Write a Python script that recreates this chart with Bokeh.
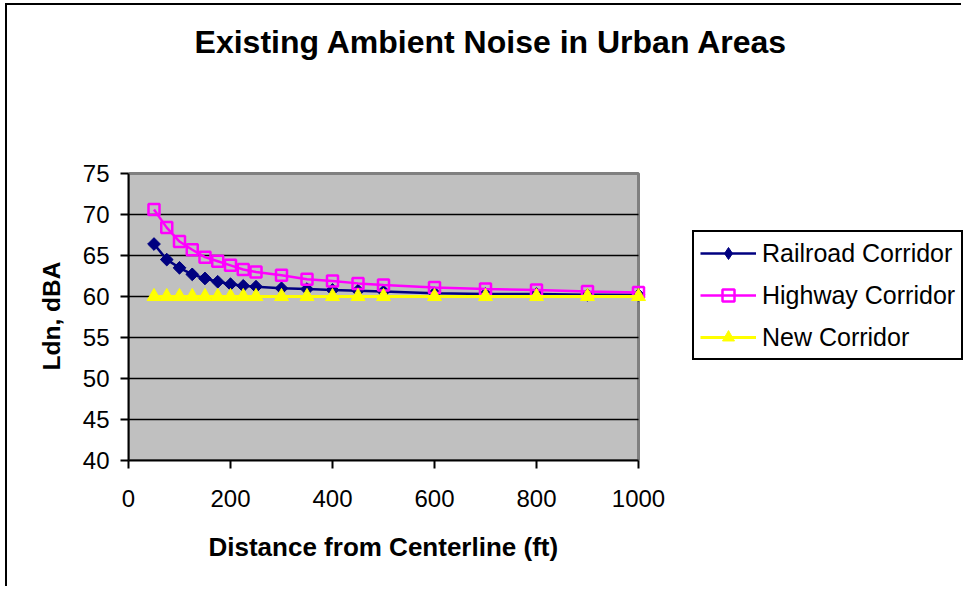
import math
from bokeh.plotting import figure
from bokeh.models import FixedTicker, Legend, LegendItem, Label, Title, ColumnDataSource
from bokeh.embed import file_html
from bokeh.resources import INLINE

# ---- data ----
distance = [50, 75, 100, 125, 150, 175, 200, 225, 250, 300, 350, 400, 450, 500, 600, 700, 800, 900, 1000]
railroad = [66.4, 64.5, 63.5, 62.7, 62.2, 61.8, 61.5, 61.3, 61.2, 61.0, 60.9, 60.8, 60.7, 60.6, 60.4, 60.3, 60.3, 60.2, 60.2]
highway = [70.6, 68.4, 66.7, 65.7, 64.8, 64.3, 63.8, 63.3, 63.0, 62.6, 62.1, 61.9, 61.6, 61.4, 61.1, 60.9, 60.8, 60.6, 60.5]
new_corridor = [60, 60, 60, 60, 60, 60, 60, 60, 60, 60, 60, 60, 60, 60, 60, 60, 60, 60, 60]

x_ticks = [0, 200, 400, 600, 800, 1000]
y_ticks = [40, 45, 50, 55, 60, 65, 70, 75]
grid_ticks = [45, 50, 55, 60, 65, 70]

title_text = "Existing Ambient Noise in Urban Areas"
x_label = "Distance from Centerline (ft)"
y_label = "Ldn, dBA"
series_names = ["Railroad Corridor", "Highway Corridor", "New Corridor"]

FONT = "Liberation Sans"

# ---- layout (pixels on the page) ----
CANVAS_LEFT, CANVAS_TOP = 7, 5          # margin + 2px border
W, H = 956, 583
AREA_LEFT, AREA_RIGHT = 128, 638         # grey plot area on the page
AREA_TOP, AREA_BOTTOM = 173, 460
x0, x1 = x_ticks[0], x_ticks[-1]
y0, y1 = y_ticks[0], y_ticks[-1]
px_x = (AREA_RIGHT - AREA_LEFT) / (x1 - x0)
px_y = (AREA_BOTTOM - AREA_TOP) / (y1 - y0)
frame_w = CANVAS_LEFT + W - AREA_LEFT
frame_h = AREA_BOTTOM - CANVAS_TOP


def page_to_data(px, py):
    return x0 + (px - AREA_LEFT) / px_x, y0 + (AREA_BOTTOM - py) / px_y


p = figure(width=W, height=H, output_backend="svg", toolbar_location=None,
           x_range=(x0, x0 + frame_w / px_x), y_range=(y0, y0 + frame_h / px_y),
           min_border_left=AREA_LEFT - CANVAS_LEFT, min_border_right=0,
           min_border_top=0, min_border_bottom=CANVAS_TOP + H - AREA_BOTTOM)
p.margin = (3, 0, 0, 5)
p.styles = {"border-left": "2px solid black", "border-top": "2px solid black"}

p.background_fill_color = "white"
p.border_fill_color = "white"
p.outline_line_color = None

# grey plotting area
area = p.quad(left=[x0], right=[x1], bottom=[y0], top=[y1],
              fill_color="#C0C0C0", line_color="#808080", line_width=3, level="image")

for ax in (p.xaxis[0], p.yaxis[0]):
    ax.axis_line_color = "black"
    ax.axis_line_width = 2
    ax.major_tick_line_color = "black"
    ax.major_tick_line_width = 2
    ax.major_tick_out = 8
    ax.major_tick_in = 0
    ax.minor_tick_line_color = None
    ax.major_label_text_font = FONT
    ax.major_label_text_font_size = "24px"
    ax.major_label_text_color = "black"

p.xaxis[0].ticker = FixedTicker(ticks=x_ticks)
p.yaxis[0].ticker = FixedTicker(ticks=y_ticks)
p.xaxis[0].bounds = (x0, x1)
p.yaxis[0].bounds = (y0, y1)
p.xaxis[0].major_label_standoff = 21
p.yaxis[0].major_label_standoff = 11

# axis titles, placed relative to the grey area (not the whole frame)
xt = Title(text=x_label, align="left", offset=80, standoff=44, vertical_align="top",
           text_font=FONT, text_font_size="26px", text_font_style="bold", text_color="black")
p.add_layout(xt, "below")
yt = Title(text=y_label, align="left", offset=90, standoff=27, vertical_align="middle",
           text_font=FONT, text_font_size="24.5px", text_font_style="bold", text_color="black")
p.add_layout(yt, "left")

p.xgrid.visible = False
p.ygrid.ticker = FixedTicker(ticks=grid_ticks)
p.ygrid.cross_bounds = (x0, x1)
p.ygrid.grid_line_color = "black"
p.ygrid.grid_line_width = 1.5

src = ColumnDataSource(dict(x=distance, rr=railroad, hw=highway, nc=new_corridor))

r_line = p.line("x", "rr", source=src, line_color="#000080", line_width=2.5)
# diamond glyph (hidden under the rotated squares) that supplies the legend swatch
r_key = p.scatter("x", "rr", source=src, marker="diamond", size=11,
                  fill_color="#000080", line_color="#000080")
r_mark = p.scatter("x", "rr", source=src, marker="square", angle=math.pi / 4, size=9,
                   fill_color="#000080", line_color="#000080")

h_line = p.line("x", "hw", source=src, line_color="#FF00FF", line_width=2.5)
h_mark = p.scatter("x", "hw", source=src, marker="square", size=11,
                   fill_color=None, line_color="#FF00FF", line_width=2.5)

n_line = p.line("x", "nc", source=src, line_color="#FFFF00", line_width=3)
n_mark = p.scatter("x", "nc", source=src, marker="triangle", size=14,
                   fill_color="#FFFF00", line_color="#FFFF00")

legend = Legend(items=[
    LegendItem(label=series_names[0], renderers=[r_line, r_key]),
    LegendItem(label=series_names[1], renderers=[h_line, h_mark]),
    LegendItem(label=series_names[2], renderers=[n_line, n_mark]),
], location=(692 - AREA_LEFT, AREA_BOTTOM - 360))
legend.border_line_color = "black"
legend.border_line_alpha = 1
legend.border_line_width = 2
legend.background_fill_color = "white"
legend.background_fill_alpha = 1
legend.label_text_font = FONT
legend.label_text_font_size = "25px"
legend.label_text_color = "black"
legend.glyph_width = 56
legend.glyph_height = 30
legend.label_height = 30
legend.label_standoff = 6
legend.spacing = 12
legend.padding = 6
legend.margin = 0
p.add_layout(legend, "center")

tx, ty = page_to_data(491, 41)
title = Label(x=tx, y=ty, text=title_text,
              text_font=FONT, text_font_size="32px", text_font_style="bold",
              text_align="center", text_baseline="alphabetic", text_color="black")
p.add_layout(title)

open("out.html", "w").write(file_html(p, INLINE))
